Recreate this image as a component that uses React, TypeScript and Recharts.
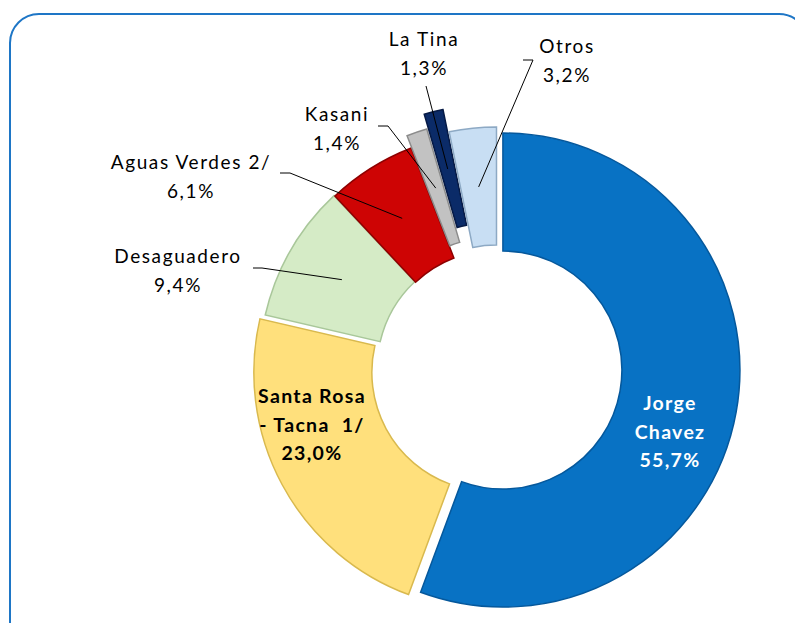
import React from 'react';
import { PieChart, Pie, Cell, Sector } from 'recharts';

// ---- data ----
const categories = ['Jorge Chavez', 'Santa Rosa - Tacna 1/', 'Desaguadero', 'Aguas Verdes 2/', 'Kasani', 'La Tina', 'Otros'];
const shares = [55.7, 23.0, 9.4, 6.1, 1.4, 1.3, 3.2];
const nameLines: string[][] = [
  ['Jorge', 'Chavez'],
  ['Santa Rosa', '- Tacna  1/'],
  ['Desaguadero'],
  ['Aguas Verdes 2/'],
  ['Kasani'],
  ['La Tina'],
  ['Otros'],
];

const data = categories.map((name, i) => ({ name, value: shares[i] }));
const fmt = (v: number) => v.toFixed(1).replace('.', ',') + '%';

// ---- styles ----
const colors = ['#0872C4', '#FFE07C', '#D5EBC6', '#CE0404', '#C2C2C2', '#0B2B68', '#C8DEF3'];
const strokes = ['#05589C', '#D9B94E', '#A9C79A', '#8E0000', '#8C8C8C', '#061A45', '#8DA9C4'];
const explode = [6, 7, 1, 0, 13, 28, 5];
const CX = 497;
const CY = 369;
const R_IN = 119;
const R_OUT = 237;
const FONT = 'Lato, "Open Sans", sans-serif';

type Layout = {
  x: number;
  y: number;
  inside?: boolean;
  color: string;
  line?: { x: number; y: number; stub: number };
};
const labelLayout: Layout[] = [
  { x: 670, y: 410, inside: true, color: '#FFFFFF' },
  { x: 312, y: 403, inside: true, color: '#000000' },
  { x: 178, y: 263, color: '#000000', line: { x: 253, y: 268, stub: 9 } },
  { x: 191, y: 169, color: '#000000', line: { x: 280, y: 173, stub: 10 } },
  { x: 337, y: 121, color: '#000000', line: { x: 378, y: 126, stub: 10 } },
  { x: 424, y: 46, color: '#000000', line: { x: 426, y: 86, stub: 0 } },
  { x: 567, y: 53, color: '#000000', line: { x: 523, y: 60, stub: 10 } },
];

const RAD = Math.PI / 180;
const idxOf = (p: any) => {
  const n = p?.payload?.name ?? p?.name;
  const i = categories.indexOf(n);
  return i >= 0 ? i : p?.index ?? 0;
};

const renderSector = (props: any) => {
  const i = idxOf(props);
  const e = explode[i] ?? 0;
  const a = -props.midAngle * RAD;
  return (
    <Sector
      {...props}
      cx={props.cx + e * Math.cos(a)}
      cy={props.cy + e * Math.sin(a)}
      fill={colors[i]}
      stroke={strokes[i]}
      strokeWidth={1.5}
    />
  );
};

const renderLabel = (props: any) => {
  const i = idxOf(props);
  const lay = labelLayout[i];
  const lines = [...nameLines[i], fmt(shares[i])];
  const lh = 28.5;
  const elems: React.ReactNode[] = [];
  if (lay.line) {
    const a = -props.midAngle * RAD;
    const r = (props.innerRadius + props.outerRadius) / 2 + (explode[i] ?? 0);
    const ex = props.cx + r * Math.cos(a);
    const ey = props.cy + r * Math.sin(a);
    const sx = lay.line.x + lay.line.stub;
    elems.push(
      <polyline
        key="l"
        points={`${lay.line.x},${lay.line.y} ${sx},${lay.line.y} ${ex},${ey}`}
        fill="none"
        stroke="#000"
        strokeWidth={1}
      />
    );
  }
  lines.forEach((t, k) => {
    elems.push(
      <text
        key={'t' + k}
        x={lay.x}
        y={lay.y + k * lh}
        textAnchor="middle"
        fill={lay.color}
        fontFamily={FONT}
        fontSize={lay.inside ? 19.5 : 19}
        fontWeight={lay.inside ? 700 : 400}
        letterSpacing={lay.inside ? 1.3 : 1.6}
        style={{ whiteSpace: 'pre' }}
      >
        {t}
      </text>
    );
  });
  return <g key={'lab' + i}>{elems}</g>;
};

export default function App() {
  return (
    <div style={{ position: 'absolute', left: 0, top: 0, width: 795, height: 623, overflow: 'hidden', background: '#fff' }}>
      <div
        style={{
          position: 'absolute',
          left: 9,
          top: 13,
          width: 800,
          height: 640,
          border: '2px solid #1E76C6',
          borderRadius: 30,
          boxSizing: 'border-box',
        }}
      />
      <div style={{ position: 'absolute', left: 0, top: 0 }}>
        <PieChart width={795} height={623} margin={{ top: 0, right: 0, bottom: 0, left: 0 }}>
          <Pie
            data={data}
            dataKey="value"
            nameKey="name"
            cx={CX}
            cy={CY}
            innerRadius={R_IN}
            outerRadius={R_OUT}
            startAngle={90}
            endAngle={-270}
            paddingAngle={0}
            isAnimationActive={false}
            shape={renderSector}
            label={renderLabel}
            labelLine={false}
            stroke="none"
          >
            {data.map((d, i) => (
              <Cell key={d.name} fill={colors[i]} stroke={strokes[i]} />
            ))}
          </Pie>
        </PieChart>
      </div>
    </div>
  );
}
